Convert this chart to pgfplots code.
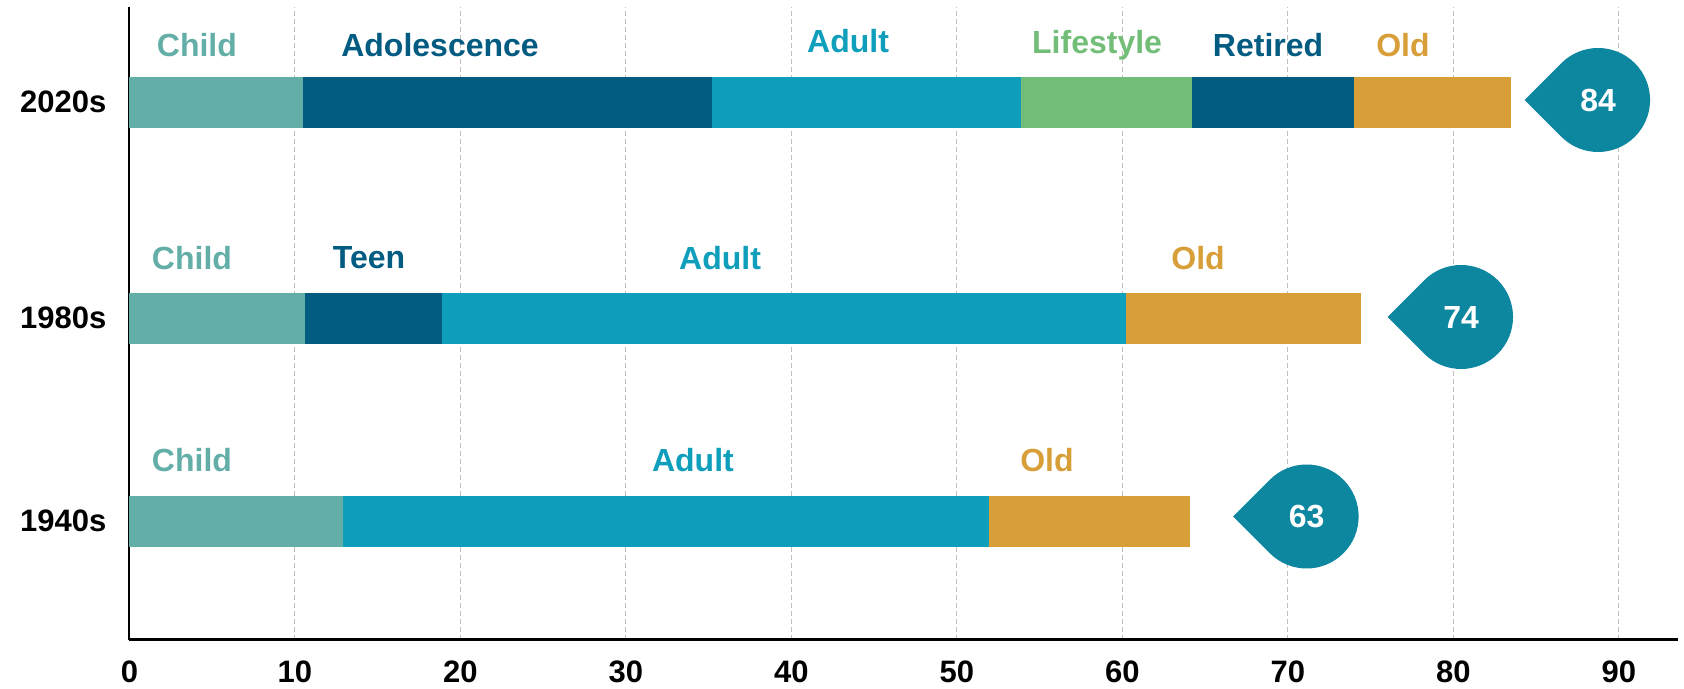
\documentclass[border=0pt]{standalone}
\usepackage{pgfplots}
\pgfplotsset{compat=1.18}
\usepackage{fontspec}
\setmainfont{Liberation Sans}
\definecolor{cchild}{RGB}{99,175,168}
\definecolor{cdark}{RGB}{2,91,128}
\definecolor{cadult}{RGB}{15,158,188}
\definecolor{clife}{RGB}{114,189,120}
\definecolor{cold}{RGB}{216,159,57}
\definecolor{cdrop}{RGB}{13,134,160}
\pgfdeclareplotmark{teardrop}{%
  \pgfpathmoveto{\pgfpoint{-1.4142\pgfplotmarksize}{0pt}}%
  \pgfpathlineto{\pgfpointpolar{135}{\pgfplotmarksize}}%
  \pgfpatharc{135}{-135}{\pgfplotmarksize}%
  \pgfpathclose
  \pgfusepathqfill}
\tikzset{lab/.style={font=\fontsize{16}{19}\selectfont\bfseries, text=#1}}
\pgfplotsset{seg/.style={xbar, bar shift=0pt, bar width=25.35pt, draw=none, fill=#1}}
\begin{document}
\begin{tikzpicture}
\useasboundingbox (-64.7pt,-24.5pt) rectangle (777.3pt,320pt);
\begin{axis}[
  at={(0pt,0pt)}, anchor=south west,
  scale only axis, width=774.3pt, height=316.65pt,
  xmin=0, xmax=93.57, ymin=0, ymax=633.3,
  axis x line*=bottom, axis y line*=left,
  axis line style={-},
  x axis line style={line width=1.5pt},
  y axis line style={line width=1pt},
  xtick={0,10,...,90},
  ytick={118.7,321.7,537.7}, yticklabels={1940s,1980s,2020s},
  major tick length=0pt,
  xmajorgrids,
  grid style={dash pattern=on 2.5pt off 1.5pt, black!25, line width=0.5pt},
  tick label style={font=\fontsize{15.5}{18}\selectfont\bfseries},
  /pgf/number format/assume math mode=true,
  xticklabel style={yshift=-7pt},
  yticklabel style={xshift=-8pt},
  clip=false,
]
% 2020s (cumulative ends, drawn longest first)
\addplot[seg=cold]   coordinates {(83.5,537.7)};
\addplot[seg=cdark]  coordinates {(74.0,537.7)};
\addplot[seg=clife]  coordinates {(64.2,537.7)};
\addplot[seg=cadult] coordinates {(53.9,537.7)};
\addplot[seg=cdark]  coordinates {(35.2,537.7)};
\addplot[seg=cchild] coordinates {(10.5,537.7)};
% 1980s
\addplot[seg=cold]   coordinates {(74.4,321.7)};
\addplot[seg=cadult] coordinates {(60.2,321.7)};
\addplot[seg=cdark]  coordinates {(18.9,321.7)};
\addplot[seg=cchild] coordinates {(10.6,321.7)};
% 1940s
\addplot[seg=cold]   coordinates {(64.1,118.7)};
\addplot[seg=cadult] coordinates {(51.95,118.7)};
\addplot[seg=cchild] coordinates {(12.9,118.7)};
% life expectancy markers
\addplot[only marks, mark=teardrop, mark size=26pt, cdrop,
  point meta=explicit symbolic, nodes near coords,
  every node near coord/.append style={anchor=center, text=white,
    font=\fontsize{16}{19}\selectfont\bfseries}]
  coordinates {(88.74,540) [84] (80.46,323) [74] (71.13,123.5) [63]};
% segment names
\node[lab=cchild] at (axis cs:4.08,595) {Child};
\node[lab=cdark]  at (axis cs:18.77,595) {Adolescence};
\node[lab=cadult] at (axis cs:43.42,599) {Adult};
\node[lab=clife]  at (axis cs:58.47,595) {Lifestyle};
\node[lab=cdark]  at (axis cs:68.8,595) {Retired};
\node[lab=cold]   at (axis cs:76.95,595) {Old};
\node[lab=cchild] at (axis cs:3.78,382) {Child};
\node[lab=cdark]  at (axis cs:14.48,382) {Teen};
\node[lab=cadult] at (axis cs:35.69,382) {Adult};
\node[lab=cold]   at (axis cs:64.57,382) {Old};
\node[lab=cchild] at (axis cs:3.78,180) {Child};
\node[lab=cadult] at (axis cs:34.05,180) {Adult};
\node[lab=cold]   at (axis cs:55.44,180) {Old};
\end{axis}
\end{tikzpicture}
\end{document}
